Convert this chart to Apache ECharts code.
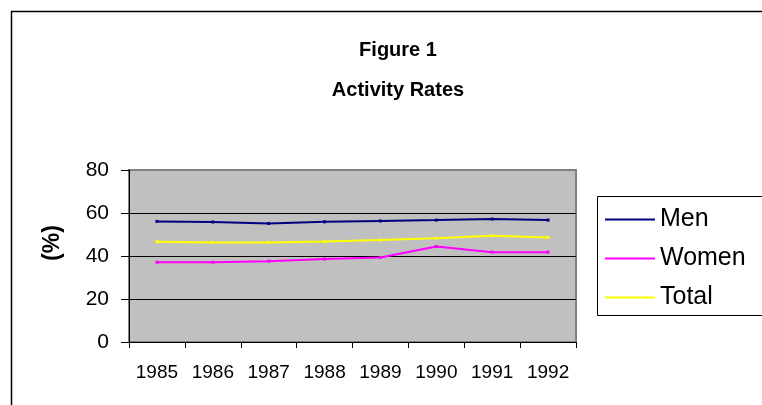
<!DOCTYPE html>
<html>
<head>
<meta charset="utf-8">
<script src="https://cdn.jsdelivr.net/npm/echarts@6/dist/echarts.min.js"></script>
<style>
  html, body { margin: 0; padding: 0; background: #fff; }
  #chart { width: 762px; height: 405px; }
</style>
</head>
<body>
<div id="chart"></div>
<script>
// ---- data ----
const years = ['1985', '1986', '1987', '1988', '1989', '1990', '1991', '1992'];
const men   = [56.1, 55.8, 55.1, 55.9, 56.3, 56.7, 57.2, 56.7];
const women = [37.1, 37.1, 37.6, 38.6, 39.3, 44.4, 41.8, 41.8];
const total = [46.6, 46.3, 46.3, 46.7, 47.4, 48.3, 49.4, 48.6];
const yTicks = [0, 20, 40, 60, 80];

const FONT = '"Liberation Sans", Arial, sans-serif';

function lineSeries(name, color, data) {
    return {
        name: name,
        type: 'line',
        data: data,
        symbol: 'rect',
        symbolSize: 3,
        itemStyle: { color: color },
        lineStyle: { color: color, width: 2 },
        animation: false
    };
}

function titleText(text, y) {
    return { type: 'text', z: 100, silent: true, x: 398, y: y,
             style: { text: text, fontFamily: FONT, fontSize: 20, fontWeight: 'bold',
                      fill: '#000', textAlign: 'center', textVerticalAlign: 'middle' } };
}

const chart = echarts.init(document.getElementById('chart'), null, { renderer: 'canvas' });

chart.setOption({
    backgroundColor: '#ffffff',
    animation: false,
    textStyle: { fontFamily: FONT },
    grid: {
        left: 129, top: 170, right: 186, bottom: 63,
        show: true,
        backgroundColor: '#c0c0c0',
        borderColor: '#808080',
        borderWidth: 2
    },
    legend: {
        orient: 'vertical',
        left: 605,
        top: 207,
        padding: 0,
        itemWidth: 50,
        itemHeight: 2,
        itemGap: 14,
        icon: 'rect',
        textStyle: { fontFamily: FONT, fontSize: 25, color: '#000' },
        data: ['Men', 'Women', 'Total']
    },
    xAxis: {
        type: 'category',
        data: years,
        boundaryGap: true,
        axisLine: { lineStyle: { color: '#000', width: 1 } },
        axisTick: { show: true, length: 6, inside: false, lineStyle: { color: '#000' } },
        axisLabel: { margin: 21, fontFamily: FONT, fontSize: 19, color: '#000' },
        splitLine: { show: false }
    },
    yAxis: {
        type: 'value',
        min: yTicks[0],
        max: yTicks[yTicks.length - 1],
        interval: 20,
        axisLine: { show: true, lineStyle: { color: '#000', width: 1 } },
        axisTick: { show: true, length: 8, lineStyle: { color: '#000' } },
        axisLabel: { margin: 20, fontFamily: FONT, fontSize: 21, color: '#000' },
        splitLine: { show: true, lineStyle: { color: ['#000', '#000', '#000', '#000', '#808080'], width: 1 } }
    },
    graphic: [
        titleText('Figure 1', 50),
        titleText('Activity Rates', 90),
        // outer chart frame (runs off the right and bottom edges)
        { type: 'rect', z: 100, silent: true,
          shape: { x: 11.5, y: 11.5, width: 820, height: 520 },
          style: { fill: null, stroke: '#000', lineWidth: 1.5 } },
        // legend frame (also runs off the right edge)
        { type: 'rect', z: 100, silent: true,
          shape: { x: 597.5, y: 196.5, width: 220, height: 119 },
          style: { fill: null, stroke: '#000', lineWidth: 1 } },
        // y axis title
        { type: 'text', z: 100, silent: true,
          x: 53, y: 243, rotation: Math.PI / 2,
          style: { text: '(%)', fontFamily: FONT, fontSize: 23, fontWeight: 'bold',
                   fill: '#000', textAlign: 'center', textVerticalAlign: 'middle' } }
    ],
    series: [
        lineSeries('Men', '#000080', men),
        lineSeries('Women', '#ff00ff', women),
        lineSeries('Total', '#ffff00', total)
    ]
});
</script>
</body>
</html>
